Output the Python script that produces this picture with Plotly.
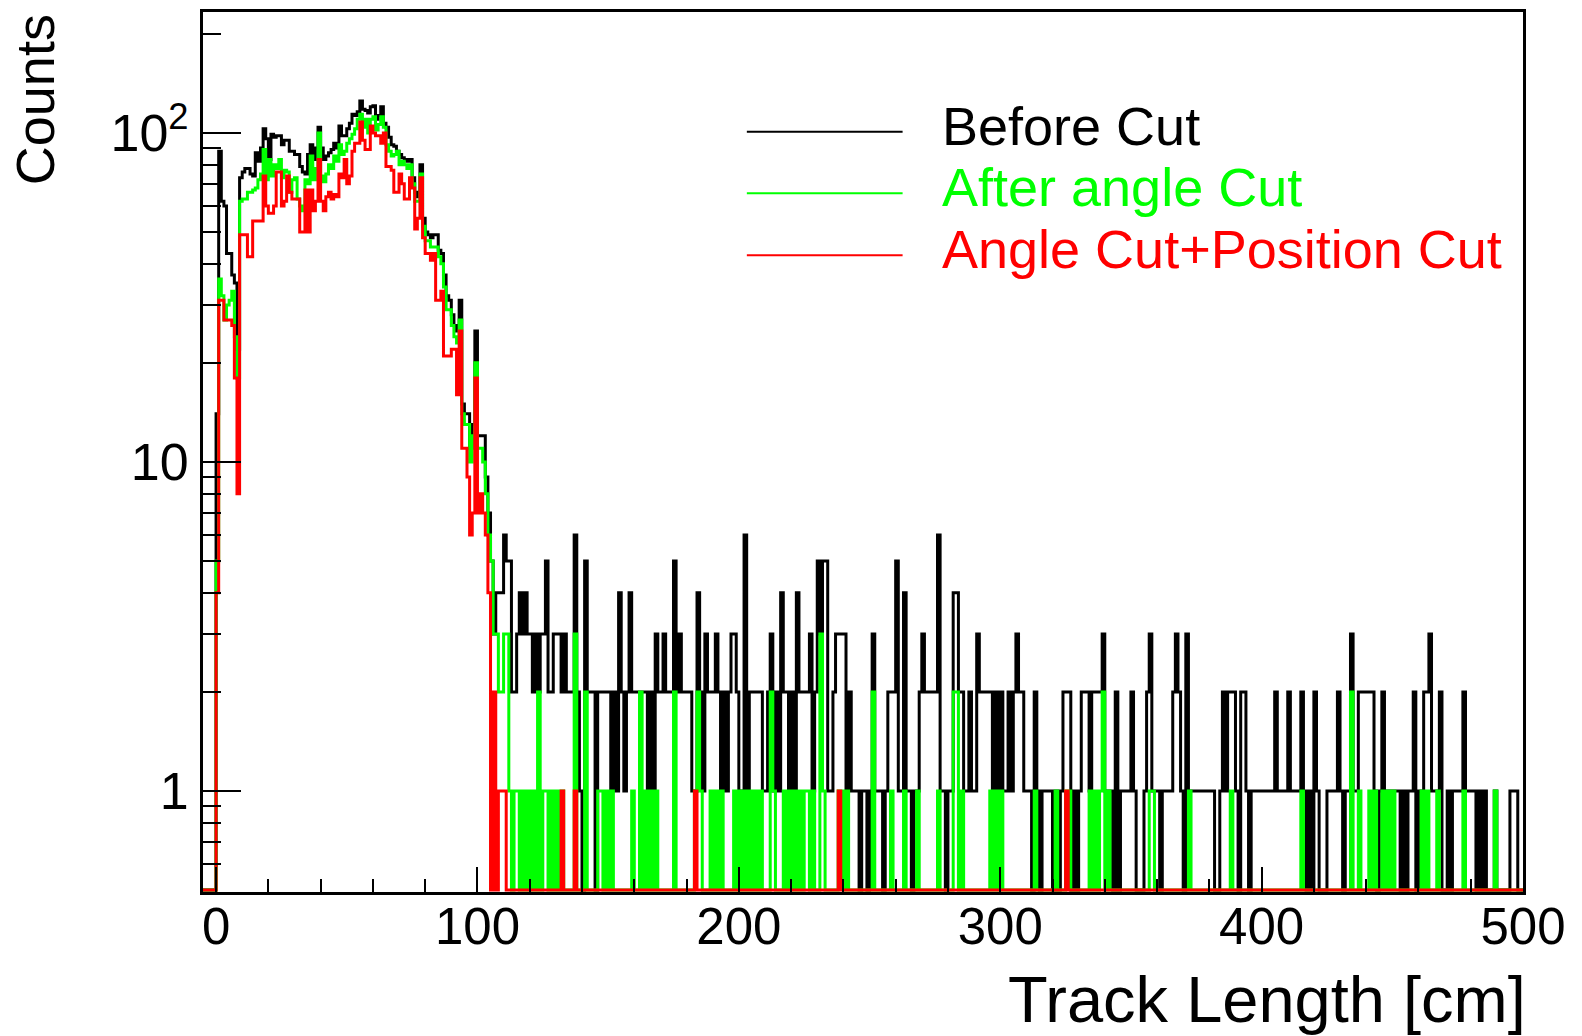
import numpy as np
import plotly.graph_objects as go

# Track-length histograms: 1 cm bins from -5 cm to 500 cm, log-scale counts
X_LOW, X_HIGH = -5, 500
Y_MIN, Y_MAX = 0.5, 233.0

SERIES_NAMES = ["Before Cut", "After angle Cut", "Angle Cut+Position Cut"]
SERIES_COLORS = ["#000000", "#00ff00", "#ff0000"]

X_TICKS = [0, 100, 200, 300, 400, 500]
Y_TICKS = [1, 10, 100]
Y_TICK_TEXT = ["1", "10", "10<sup>2</sup>"]
Y_MINOR_TICKS = [0.6, 0.7, 0.8, 0.9, 2, 3, 4, 5, 6, 7, 8, 9,
                 20, 30, 40, 50, 60, 70, 80, 90, 200]

# bins -5 .. -1 (empty in every histogram)
EMPTY_LEAD = [0, 0, 0, 0, 0]

# ---- Before Cut -------------------------------------------------------
BEFORE_000 = [14, 88, 62, 60, 43, 43, 37, 35, 22, 73,
              76, 78, 78, 75, 74, 87, 82, 90, 103, 96,
              83, 99, 97, 98, 98, 92, 95, 95, 88, 88,
              86, 86, 79, 76, 75, 86, 92, 83, 90, 104,
              90, 83, 85, 87, 89, 93, 90, 105, 98, 98,
              103, 107, 114, 113, 116, 125, 118, 117, 115, 120,
              121, 110, 113, 120, 107, 104, 97, 92, 91, 88,
              86, 84, 83, 82, 83, 73, 66, 64, 80, 55,
              50, 49, 48, 49, 49, 44, 43, 37, 32, 31,
              28, 26, 25, 31, 15, 14, 14, 11, 13, 25]
BEFORE_100 = [12, 12, 12, 9, 7, 5, 3, 4, 4, 4,
              6, 5, 5, 2, 2, 3, 4, 3, 4, 3,
              3, 2, 3, 2, 3, 3, 5, 2, 2, 3,
              3, 3, 2, 3, 2, 2, 2, 6, 2, 1,
              0, 5, 2, 2, 2, 0, 2, 2, 2, 2,
              2, 1, 2, 1, 4, 2, 1, 2, 4, 2,
              2, 2, 2, 2, 2, 1, 2, 1, 3, 2,
              2, 3, 2, 2, 2, 5, 2, 3, 2, 2,
              2, 2, 1, 1, 4, 2, 1, 3, 2, 2,
              2, 3, 2, 1, 2, 1, 2, 3, 3, 2]
BEFORE_200 = [1, 1, 6, 1, 2, 2, 2, 2, 2, 1,
              1, 2, 3, 1, 2, 1, 4, 2, 2, 1,
              2, 1, 4, 2, 2, 2, 2, 3, 1, 2,
              5, 3, 5, 5, 1, 1, 2, 3, 3, 3,
              3, 1, 2, 1, 1, 1, 0, 1, 1, 0,
              1, 3, 1, 1, 1, 0, 1, 2, 2, 2,
              5, 1, 1, 4, 1, 1, 0, 1, 1, 2,
              3, 2, 2, 2, 2, 2, 6, 1, 1, 0,
              1, 1, 4, 4, 2, 2, 1, 1, 2, 1,
              1, 3, 2, 2, 2, 2, 2, 1, 2, 1]
BEFORE_300 = [2, 1, 1, 2, 1, 2, 3, 2, 2, 1,
              1, 1, 0, 2, 1, 0, 1, 1, 1, 1,
              0, 1, 0, 1, 2, 2, 2, 0, 1, 0,
              1, 2, 2, 2, 1, 2, 2, 2, 2, 3,
              1, 1, 1, 0, 2, 0, 1, 1, 1, 1,
              2, 1, 0, 0, 0, 1, 2, 3, 1, 1,
              1, 0, 1, 1, 1, 1, 2, 3, 2, 1,
              0, 3, 1, 1, 1, 1, 1, 1, 1, 1,
              1, 1, 0, 0, 1, 2, 1, 2, 2, 2,
              1, 0, 2, 2, 1, 0, 1, 1, 1, 1]
BEFORE_400 = [1, 1, 1, 1, 1, 2, 1, 1, 1, 1,
              2, 1, 1, 1, 1, 2, 1, 0, 1, 0,
              2, 1, 0, 0, 0, 1, 1, 1, 1, 2,
              1, 0, 1, 1, 3, 1, 1, 2, 2, 2,
              2, 2, 2, 1, 0, 1, 2, 1, 1, 1,
              1, 1, 1, 0, 1, 0, 1, 1, 2, 0,
              1, 1, 2, 2, 3, 1, 1, 1, 2, 0,
              0, 1, 0, 1, 1, 1, 1, 2, 1, 1,
              1, 1, 0, 1, 0, 1, 0, 0, 0, 1,
              0, 0, 0, 0, 0, 1, 1, 1, 0, 0]

# ---- After angle Cut --------------------------------------------------
ANGLE_000 = [5, 36, 32, 27, 30, 31, 33, 24, 18, 62,
             63, 63, 66, 66, 67, 68, 72, 75, 89, 72,
             83, 74, 80, 78, 83, 73, 77, 76, 66, 72,
             73, 63, 60, 58, 72, 70, 85, 72, 78, 100,
             74, 71, 75, 80, 78, 85, 82, 92, 86, 88,
             93, 96, 99, 103, 110, 114, 104, 110, 100, 110,
             112, 102, 106, 112, 104, 92, 88, 85, 86, 88,
             80, 82, 80, 78, 80, 70, 62, 62, 75, 52,
             47, 47, 45, 45, 45, 42, 40, 34, 29, 29,
             26, 24, 23, 27, 14, 13, 13, 10, 12, 20]
ANGLE_100 = [11, 11, 10, 8, 6, 5, 3, 3, 2, 2,
             3, 3, 1, 0, 1, 1, 0, 1, 0, 1,
             0, 1, 0, 2, 0, 1, 1, 0, 1, 0,
             1, 0, 1, 0, 0, 0, 0, 3, 0, 0,
             0, 2, 0, 0, 0, 0, 1, 1, 0, 1,
             0, 1, 0, 0, 0, 0, 0, 0, 0, 1,
             0, 0, 2, 0, 1, 0, 1, 0, 1, 0,
             0, 0, 0, 0, 0, 2, 0, 0, 0, 0,
             0, 0, 0, 1, 2, 1, 0, 0, 0, 1,
             0, 1, 0, 1, 0, 0, 0, 0, 1, 0]
ANGLE_200 = [1, 0, 1, 0, 1, 0, 1, 0, 1, 0,
             0, 0, 2, 1, 0, 0, 0, 1, 0, 1,
             0, 1, 0, 1, 0, 1, 1, 0, 1, 0,
             0, 3, 1, 0, 0, 0, 0, 0, 1, 1,
             0, 1, 0, 0, 0, 0, 0, 0, 0, 0,
             0, 2, 0, 0, 0, 0, 0, 0, 1, 0,
             0, 0, 0, 1, 0, 0, 0, 0, 1, 0,
             0, 0, 0, 0, 0, 0, 1, 0, 0, 0,
             0, 0, 2, 2, 0, 1, 0, 0, 0, 0,
             0, 0, 0, 0, 0, 0, 1, 0, 1, 0]
ANGLE_300 = [1, 0, 0, 0, 0, 0, 0, 0, 0, 0,
             0, 0, 0, 1, 0, 0, 0, 0, 0, 0,
             0, 1, 0, 0, 0, 1, 1, 0, 0, 0,
             0, 0, 0, 0, 1, 0, 1, 0, 1, 2,
             0, 1, 0, 0, 0, 0, 0, 0, 0, 0,
             0, 0, 0, 0, 0, 0, 0, 1, 1, 0,
             0, 0, 0, 0, 0, 0, 0, 0, 0, 0,
             0, 0, 1, 0, 0, 0, 0, 0, 0, 0,
             0, 0, 0, 0, 0, 0, 0, 0, 1, 0,
             0, 0, 0, 0, 0, 0, 0, 0, 0, 0]
ANGLE_400 = [0, 0, 0, 0, 0, 0, 0, 0, 0, 0,
             0, 0, 0, 0, 0, 1, 0, 0, 0, 0,
             0, 0, 0, 0, 0, 0, 0, 0, 0, 0,
             0, 0, 0, 0, 2, 0, 0, 1, 0, 0,
             0, 1, 0, 1, 0, 0, 1, 0, 1, 0,
             1, 0, 0, 0, 0, 0, 0, 0, 0, 0,
             0, 1, 0, 1, 0, 0, 0, 1, 0, 0,
             0, 0, 0, 0, 0, 0, 0, 1, 0, 0,
             0, 0, 0, 0, 0, 0, 0, 0, 0, 1,
             0, 0, 0, 0, 0, 0, 0, 0, 0, 0]

# ---- Angle Cut + Position Cut -----------------------------------------
POSITION_000 = [4, 31, 31, 27, 27, 27, 26, 18, 8, 49,
                49, 49, 42, 42, 54, 54, 54, 54, 74, 60,
                57, 57, 60, 76, 76, 60, 62, 74, 66, 63,
                63, 63, 50, 50, 67, 50, 67, 58, 62, 83,
                62, 58, 64, 66, 63, 65, 64, 75, 73, 83,
                70, 74, 88, 93, 93, 108, 95, 89, 89, 105,
                100, 98, 98, 93, 100, 79, 79, 77, 66, 66,
                75, 70, 63, 63, 73, 68, 51, 55, 73, 48,
                43, 43, 41, 43, 31, 31, 33, 21, 21, 21,
                22, 22, 16, 25, 11, 11, 9, 6, 7, 18]
POSITION_100 = [7, 8, 7, 6, 4, 0, 2, 0, 1, 1,
                1, 0, 0, 0, 0, 0, 0, 0, 0, 0,
                0, 0, 0, 0, 0, 0, 0, 0, 0, 0,
                0, 0, 1, 0, 0, 0, 0, 1, 0, 0,
                0, 0, 0, 0, 0, 0, 0, 0, 0, 0,
                0, 0, 0, 0, 0, 0, 0, 0, 0, 0,
                0, 0, 0, 0, 0, 0, 0, 0, 0, 0,
                0, 0, 0, 0, 0, 0, 0, 0, 0, 0,
                0, 0, 0, 1, 0, 0, 0, 0, 0, 0,
                0, 0, 0, 0, 0, 0, 0, 0, 0, 0]
POSITION_200 = [0, 0, 0, 0, 0, 0, 0, 0, 0, 0,
                0, 0, 0, 0, 0, 0, 0, 0, 0, 0,
                0, 0, 0, 0, 0, 0, 0, 0, 0, 0,
                0, 0, 0, 0, 0, 0, 0, 0, 1, 0,
                0, 0, 0, 0, 0, 0, 0, 0, 0, 0,
                0, 0, 0, 0, 0, 0, 0, 0, 0, 0,
                0, 0, 0, 0, 0, 0, 0, 0, 0, 0,
                0, 0, 0, 0, 0, 0, 0, 0, 0, 0,
                0, 0, 0, 0, 0, 0, 0, 0, 0, 0,
                0, 0, 0, 0, 0, 0, 0, 0, 0, 0]
POSITION_300 = [0, 0, 0, 0, 0, 0, 0, 0, 0, 0,
                0, 0, 0, 0, 0, 0, 0, 0, 0, 0,
                0, 0, 0, 0, 0, 1, 0, 0, 0, 0,
                0, 0, 0, 0, 0, 0, 0, 0, 0, 0,
                0, 0, 0, 0, 0, 0, 0, 0, 0, 0,
                0, 0, 0, 0, 0, 0, 0, 0, 0, 0,
                0, 0, 0, 0, 0, 0, 0, 0, 0, 0,
                0, 0, 0, 0, 0, 0, 0, 0, 0, 0,
                0, 0, 0, 0, 0, 0, 0, 0, 0, 0,
                0, 0, 0, 0, 0, 0, 0, 0, 0, 0]
POSITION_400 = [0, 0, 0, 0, 0, 0, 0, 0, 0, 0,
                0, 0, 0, 0, 0, 0, 0, 0, 0, 0,
                0, 0, 0, 0, 0, 0, 0, 0, 0, 0,
                0, 0, 0, 0, 0, 0, 0, 0, 0, 0,
                0, 0, 0, 0, 0, 0, 0, 0, 0, 0,
                0, 0, 0, 0, 0, 0, 0, 0, 0, 0,
                0, 0, 0, 0, 0, 0, 0, 0, 0, 0,
                0, 0, 0, 0, 0, 0, 0, 0, 0, 0,
                0, 0, 0, 0, 0, 0, 0, 0, 0, 0,
                0, 0, 0, 0, 0, 0, 0, 0, 0, 0]

FONT = "Liberation Sans, Arial, Helvetica, sans-serif"

histograms = [
    EMPTY_LEAD + BEFORE_000 + BEFORE_100 + BEFORE_200 + BEFORE_300 + BEFORE_400,
    EMPTY_LEAD + ANGLE_000 + ANGLE_100 + ANGLE_200 + ANGLE_300 + ANGLE_400,
    EMPTY_LEAD + POSITION_000 + POSITION_100 + POSITION_200 + POSITION_300 + POSITION_400,
]

edges = np.arange(X_LOW, X_HIGH + 1)

fig = go.Figure()
for counts, color, name in zip(histograms, SERIES_COLORS, SERIES_NAMES):
    c = np.asarray(counts, dtype=float)
    # empty bins are drawn on the pad floor, as ROOT does on a log axis
    y = np.where(c > 0, c, Y_MIN)
    fig.add_trace(go.Scatter(
        x=edges, y=np.append(y, y[-1]),
        mode="lines", line=dict(color=color, width=3, shape="hv"),
        name=name, showlegend=False, hoverinfo="skip",
    ))

fig.update_layout(
    width=1582, height=1036, autosize=False,
    margin=dict(l=203, r=59, t=9, b=144),
    plot_bgcolor="white", paper_bgcolor="white",
    font=dict(family=FONT, color="black"),
)

fig.update_xaxes(
    range=[X_LOW, X_HIGH],
    tickmode="array", tickvals=X_TICKS,
    ticks="inside", ticklen=25, tickwidth=2, tickcolor="black",
    minor=dict(tick0=0, dtick=20, ticks="inside", ticklen=13,
               tickwidth=2, tickcolor="black"),
    tickfont=dict(size=51, family=FONT, color="black"),
    ticklabelstandoff=-12,
    showline=True, linewidth=3, linecolor="black", mirror=True,
    showgrid=False, zeroline=False,
)

fig.update_yaxes(
    type="log",
    range=[np.log10(Y_MIN) - 0.006, np.log10(Y_MAX)],
    tickmode="array", tickvals=Y_TICKS, ticktext=Y_TICK_TEXT,
    ticks="inside", ticklen=38, tickwidth=2, tickcolor="black",
    minor=dict(tickmode="array", tickvals=Y_MINOR_TICKS, ticks="inside",
               ticklen=18, tickwidth=2, tickcolor="black"),
    tickfont=dict(size=52, family=FONT, color="black"),
    ticklabelstandoff=1,
    showline=True, linewidth=3, linecolor="black", mirror=True,
    showgrid=False, zeroline=False,
)

# axis titles, placed ROOT-style at the far ends of the axes
fig.add_annotation(
    text="Track Length [cm]", xref="paper", yref="paper",
    x=1.0, y=-0.122, xanchor="right", yanchor="middle", xshift=5,
    showarrow=False, font=dict(size=65, family=FONT, color="black"),
)
fig.add_annotation(
    text="Counts", xref="paper", yref="paper", textangle=-90,
    x=-0.1275, y=1.0, xanchor="center", yanchor="top",
    showarrow=False, font=dict(size=54, family=FONT, color="black"),
)

# legend: line sample followed by text in the series colour
LEGEND_ROWS_Y = [0.864, 0.794, 0.7237]
for name, color, ly in zip(SERIES_NAMES, SERIES_COLORS, LEGEND_ROWS_Y):
    fig.add_shape(type="line", xref="paper", yref="paper",
                  x0=0.412, x1=0.530, y0=ly, y1=ly,
                  line=dict(color=color, width=2))
    fig.add_annotation(text=name, xref="paper", yref="paper",
                       x=0.558, y=ly, xanchor="left", yanchor="middle",
                       yshift=6, showarrow=False,
                       font=dict(size=54, family=FONT, color=color))

fig.write_html("out.html")
